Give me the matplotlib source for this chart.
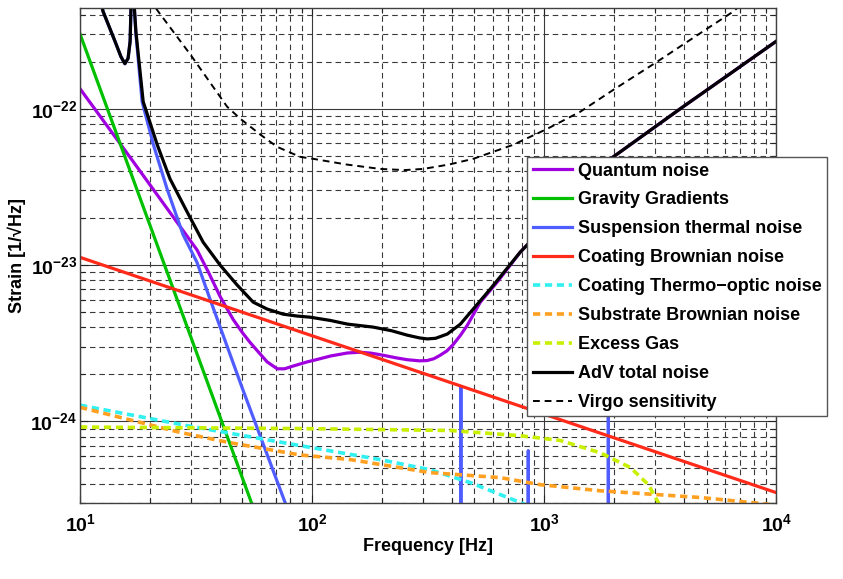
import math
import matplotlib
matplotlib.use("Agg")
import matplotlib.pyplot as plt
from matplotlib.ticker import FuncFormatter, NullFormatter, LogLocator

plt.rcParams['font.family'] = ['Liberation Sans', 'DejaVu Sans']
plt.rcParams['font.weight'] = 'bold'
plt.rcParams['mathtext.fontset'] = 'custom'
plt.rcParams['mathtext.rm'] = 'Liberation Sans:bold'
plt.rcParams['mathtext.bf'] = 'Liberation Sans:bold'
plt.rcParams['mathtext.it'] = 'Liberation Sans:bold:italic'

# ---- data (frequency in Hz, strain in 1/sqrt(Hz)) ----
f_quantum = [10, 16.4, 31.9, 36.0, 40.1, 45.6, 50, 54.0, 59, 64.0, 70.7, 76, 82.8, 95,
             105, 120, 142, 161, 180, 202, 230, 257, 290, 313, 335, 356, 380, 405, 435,
             466, 530, 627, 788, 1294, 1983, 3855, 10090]
h_quantum = [1.34e-22, 4.9e-23, 1.25e-23, 8.8e-24, 6.3e-24, 4.5e-24, 3.7e-24, 3.2e-24,
             2.75e-24, 2.4e-24, 2.17e-24, 2.17e-24, 2.26e-24, 2.4e-24, 2.49e-24, 2.62e-24,
             2.74e-24, 2.77e-24, 2.73e-24, 2.65e-24, 2.55e-24, 2.48e-24, 2.44e-24,
             2.45e-24, 2.52e-24, 2.65e-24, 2.82e-24, 3.1e-24, 3.55e-24, 4.12e-24, 5.79e-24,
             7.78e-24, 1.21e-23, 2.61e-23, 4.92e-23, 1.0e-22, 2.73e-22]

f_gravity = [10, 60]
h_gravity = [3.0e-22, 2.08e-25]

f_susp = [11.5, 12.56, 14.15, 15.0, 15.6, 16.1, 16.43, 16.6, 16.75, 16.9, 17.4, 18.5,
          20.7, 23.7, 27.8, 31.9, 36.3, 50, 76.6, 120, 400,
          435, 437, 439, 850, 853, 855, 858, 1880, 1888, 1896, 10000]
h_susp = [7e-22, 4.19e-22, 2.69e-22, 2.15e-22, 1.94e-22, 2.1e-22, 2.7e-22, 5e-22, 1e-20,
          6e-22, 3.0e-22, 1.11e-22, 5.88e-23, 3.07e-23, 1.56e-23, 1.04e-23, 6.05e-24,
          1.63e-24, 3.0e-25, 5e-26, 4e-28,
          5e-28, 1.65e-24, 5e-28, 1e-28, 6.5e-25, 1e-28, 1e-28, 1e-28, 2.5e-24, 1e-28, 1e-29]

f_coat_brown = [10, 10000]
h_coat_brown = [1.12e-23, 3.5e-25]

f_coat_to = [10, 30, 88.7, 196, 323, 480, 786, 960]
h_coat_to = [1.27e-24, 9.3e-25, 7.0e-25, 5.7e-25, 4.9e-25, 4.06e-25, 3.03e-25, 2.7e-25]

f_substrate = [10, 27, 44.4, 88.7, 146, 323, 646, 960, 1741, 4700, 9500]
h_substrate = [1.23e-24, 8.5e-25, 7.3e-25, 6.1e-25, 5.7e-25, 4.7e-25, 4.37e-25,
               3.94e-25, 3.6e-25, 3.26e-25, 2.94e-25]

f_gas = [10, 88.7, 394, 788, 1172, 1741, 2349, 2808, 3097, 3250]
h_gas = [9.2e-25, 9.0e-25, 8.75e-25, 8.1e-25, 7.55e-25, 6.3e-25, 5.07e-25, 3.94e-25,
         3.03e-25, 2.6e-25]

f_total = [11.5, 12.56, 14.15, 15.0, 15.6, 16.1, 16.43, 16.6, 16.75, 16.9, 17.4, 18.7,
           21.5, 24.4, 28.9, 33.9, 40.1, 47.5, 55.7, 64.0, 75.0, 86, 98, 120, 142, 183,
           220, 257, 290, 313, 340, 382, 435, 494, 585, 788, 1294, 1983, 3855, 10090]
h_total = [7e-22, 4.19e-22, 2.69e-22, 2.15e-22, 1.94e-22, 2.1e-22, 2.7e-22, 5e-22, 1e-20,
           6e-22, 3.1e-22, 1.11e-22, 5.88e-23, 3.56e-23, 2.19e-23, 1.40e-23, 1.0e-23,
           7.45e-24, 5.79e-24, 5.23e-24, 4.85e-24, 4.72e-24, 4.64e-24, 4.42e-24, 4.19e-24,
           4.01e-24, 3.8e-24, 3.56e-24, 3.42e-24, 3.37e-24, 3.4e-24, 3.62e-24, 4.19e-24,
           5.23e-24, 7.02e-24, 1.21e-23, 2.61e-23, 4.92e-23, 1.0e-22, 2.73e-22]

f_virgo = [18, 21.7, 30, 43, 49, 60, 70.7, 88.7, 101, 140, 196, 250, 301, 390, 494, 735,
           1030, 1430, 1983, 3067, 5043, 6530, 8000]
h_virgo = [6.2e-22, 4.19e-22, 2.2e-22, 1.03e-22, 8.63e-23, 6.8e-23, 5.7e-23, 4.92e-23,
           4.78e-23, 4.4e-23, 4.12e-23, 4.05e-23, 4.12e-23, 4.4e-23, 4.78e-23, 5.88e-23,
           7.44e-23, 9.57e-23, 1.32e-22, 2.0e-22, 3.26e-22, 4.19e-22, 5.5e-22]

fig = plt.figure(figsize=(8.43, 5.79), dpi=100)
ax = fig.add_axes([0.095, 0.131, 0.826, 0.855])

dash_short = (2.0, 1.3)
ax.loglog(f_quantum, h_quantum, color='#a000e0', lw=2.3, label='Quantum noise')
ax.loglog(f_gravity, h_gravity, color='#00c000', lw=2.3, label='Gravity Gradients')
ax.loglog(f_susp, h_susp, color='#4f5cff', lw=2.3, label='Suspension thermal noise')
ax.loglog(f_coat_brown, h_coat_brown, color='#ff2a1a', lw=2.3, label='Coating Brownian noise')
ax.loglog(f_coat_to, h_coat_to, color='#30f0f0', lw=2.6, dashes=dash_short,
          label='Coating Thermo\u2212optic noise')
ax.loglog(f_substrate, h_substrate, color='#ffa020', lw=2.6, dashes=dash_short,
          label='Substrate Brownian noise')
ax.loglog(f_gas, h_gas, color='#c8f000', lw=2.6, dashes=dash_short, label='Excess Gas')
ax.loglog(f_total, h_total, color='black', lw=2.3, label='AdV total noise')
ax.loglog(f_virgo, h_virgo, color='black', lw=1.4, dashes=(3.5, 2.5),
          label='Virgo sensitivity')

ax.set_xlim(10, 1e4)
ax.set_ylim(3e-25, 4.4e-22)

ax.set_axisbelow(True)
ax.grid(which='major', ls='-', color='#3a3a3a', lw=0.8)
ax.grid(which='minor', ls=(0, (5, 3.5)), color='#3a3a3a', lw=0.8)

ax.xaxis.set_major_locator(LogLocator(base=10, numticks=10))
ax.xaxis.set_minor_locator(LogLocator(base=10, subs=range(2, 10), numticks=20))
ax.yaxis.set_major_locator(LogLocator(base=10, numticks=10))
ax.yaxis.set_minor_locator(LogLocator(base=10, subs=range(2, 10), numticks=20))

fmt = FuncFormatter(lambda v, p: r'$\mathbf{10^{%d}}$' % round(math.log10(v)))
ax.xaxis.set_major_formatter(fmt)
ax.yaxis.set_major_formatter(fmt)
ax.xaxis.set_minor_formatter(NullFormatter())
ax.yaxis.set_minor_formatter(NullFormatter())
ax.tick_params(which='both', direction='in', top=True, right=True, colors='#222',
               labelcolor='black', labelsize=14)
ax.tick_params(which='major', length=6, width=0.8)
ax.tick_params(which='minor', length=3.5, width=0.8)
ax.tick_params(axis='x', pad=7)
ax.tick_params(axis='y', pad=2)
for s in ax.spines.values():
    s.set_color('#404040')
    s.set_linewidth(1.0)

ax.set_xlabel('Frequency [Hz]', fontsize=13, fontweight='bold', labelpad=2)
ax.set_ylabel('Strain [1/\u221aHz]', fontsize=13, fontweight='bold', labelpad=3)

leg = ax.legend(loc='upper left', bbox_to_anchor=(0.642, 0.699), borderaxespad=0,
                fontsize=13, handlelength=2.2, handletextpad=0.3, labelspacing=0.66,
                borderpad=0.3, fancybox=False, framealpha=1, edgecolor='#555')
leg.get_frame().set_linewidth(1.0)
for t in leg.get_texts():
    t.set_fontweight('bold')

fig.savefig('out.png', dpi=100)
